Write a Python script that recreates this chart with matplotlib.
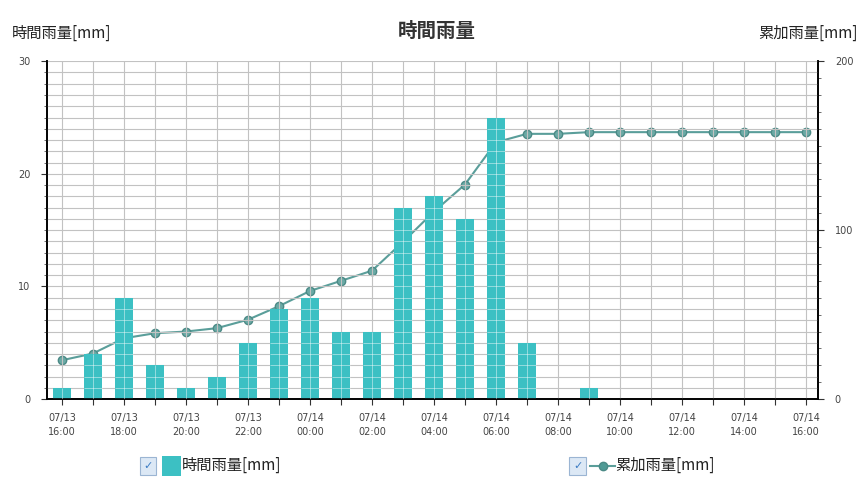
import numpy as np
import matplotlib.pyplot as plt
from matplotlib.ticker import MultipleLocator
from matplotlib.patches import Rectangle
from matplotlib.lines import Line2D

plt.rcParams['font.family'] = ['Noto Sans CJK JP', 'DejaVu Sans']

# hourly slots 07/13 16:00 .. 07/14 16:00
dates = ["07/13"] * 8 + ["07/14"] * 17
hours = ["16:00", "17:00", "18:00", "19:00", "20:00", "21:00", "22:00", "23:00",
         "00:00", "01:00", "02:00", "03:00", "04:00", "05:00", "06:00", "07:00",
         "08:00", "09:00", "10:00", "11:00", "12:00", "13:00", "14:00", "15:00", "16:00"]
hourly = [1, 4, 9, 3, 1, 2, 5, 8, 9, 6, 6, 17, 18, 16, 25, 5, 0, 1, 0, 0, 0, 0, 0, 0, 0]
cumulative = [23, 27, 36, 39, 40, 42, 47, 55, 64, 70, 76, 93, 111, 127, 152, 157, 157, 158,
              158, 158, 158, 158, 158, 158, 158]

bar_color = '#3cc0c3'
line_color = '#5a9e9a'
grid_color = '#c2c2c2'
bw = 0.6

x = np.arange(len(hours))

fig = plt.figure(figsize=(8.64, 4.78), dpi=100)
ax = fig.add_axes([0.0544, 0.165, 0.8925, 0.707])
ax2 = ax.twinx()

# grid behind everything
for yv in range(0, 31):
    ax.axhline(yv, color=grid_color, lw=0.8, zorder=0)
for xv in x:
    ax.axvline(xv, color=grid_color, lw=0.8, zorder=0)

# cumulative line on the right axis, kept behind the bars
ax2.set_zorder(ax.get_zorder() - 1)
ax.patch.set_visible(False)
ax2.plot(x, cumulative, '-o', color=line_color, lw=1.5, ms=6,
         markerfacecolor='#6aa9a5', markeredgecolor='#4b8a86', zorder=2)

ax.bar(x, hourly, width=bw, color=bar_color, zorder=2)
# faint grid showing through the bars only
for xi, h in zip(x, hourly):
    if h > 0:
        ax.hlines(np.arange(1, h), xi - bw / 2, xi + bw / 2, color='white', lw=0.7, alpha=0.45, zorder=3)
        ax.vlines(xi, 0, h, color='white', lw=0.7, alpha=0.45, zorder=3)

ax.set_xlim(-0.48, 24.39)
ax.set_ylim(0, 30)
ax2.set_ylim(0, 200)

ax.set_xticks(x)
ax.set_xticklabels([d + "\n" + h if i % 2 == 0 else "" for i, (d, h) in enumerate(zip(dates, hours))],
                   family='DejaVu Sans', fontsize=7, color='#444444', linespacing=1.5)
ax.yaxis.set_major_locator(MultipleLocator(10))
ax.yaxis.set_minor_locator(MultipleLocator(1))
ax2.yaxis.set_major_locator(MultipleLocator(100))
ax2.yaxis.set_minor_locator(MultipleLocator(10))
for a in (ax, ax2):
    a.tick_params(axis='both', which='major', labelsize=7, length=4, width=0.8,
                  colors='#333333', labelcolor='#444444')
    a.tick_params(axis='both', which='minor', length=2.5, width=0.6, colors='#555555')
    for lab in a.get_yticklabels():
        lab.set_family('DejaVu Sans')
    a.spines['top'].set_visible(False)
    a.spines['left'].set_linewidth(1.2)
    a.spines['right'].set_linewidth(1.2)
    a.spines['bottom'].set_linewidth(1.2)
ax.tick_params(axis='x', pad=6)
ax.tick_params(axis='y', pad=8)
ax2.tick_params(axis='y', pad=8)

fig.text(0.506, 0.935, "時間雨量", ha='center', va='center', fontsize=14, fontweight='bold', color='#333333')
fig.text(0.014, 0.93, "時間雨量[mm]", ha='left', va='center', fontsize=11, color='#222222')
fig.text(0.993, 0.93, "累加雨量[mm]", ha='right', va='center', fontsize=11, color='#222222')

# legend
def checkbox(xf, yf):
    fig.patches.append(Rectangle((xf, yf - 0.019), 0.019, 0.036, transform=fig.transFigure,
                                 facecolor='#dce8f5', edgecolor='#9bb5d3', lw=0.8))
    fig.text(xf + 0.0095, yf, "✓", ha='center', va='center', fontsize=8, color='#3c7cc4',
             family='DejaVu Sans')

checkbox(0.162, 0.026)
fig.patches.append(Rectangle((0.188, 0.005), 0.022, 0.042, transform=fig.transFigure,
                             facecolor=bar_color, edgecolor='none'))
fig.text(0.211, 0.026, "時間雨量[mm]", ha='left', va='center', fontsize=11, color='#222222')

checkbox(0.659, 0.026)
fig.lines.append(Line2D([0.683, 0.698, 0.712], [0.026, 0.026, 0.026], transform=fig.transFigure,
                        color=line_color, lw=1.5, marker='o', markevery=[1], ms=6,
                        markerfacecolor='#4f9a95', markeredgecolor='#4b8a86'))
fig.text(0.712, 0.026, "累加雨量[mm]", ha='left', va='center', fontsize=11, color='#222222')

fig.savefig("out.png", dpi=100)
